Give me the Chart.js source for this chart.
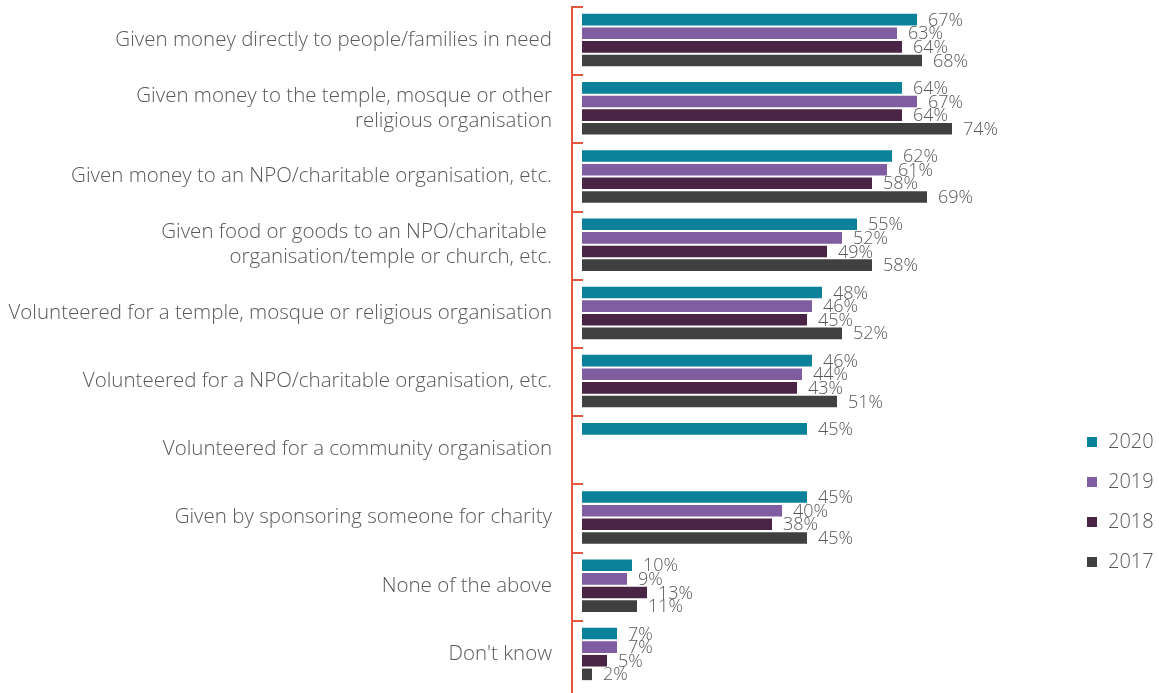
<!DOCTYPE html>
<html>
<head>
<meta charset="utf-8">
<title>Charitable giving</title>
<script src="https://cdn.jsdelivr.net/npm/chart.js@4.4.1/dist/chart.umd.min.js"></script>
<style>
  html, body { margin: 0; padding: 0; background: #fff; }
  #wrap { width: 1159px; height: 693px; position: relative; }
</style>
</head>
<body>
<div id="wrap"><canvas id="chart"></canvas></div>
<script>
// survey answers, one row per kind of giving
const categories = [
  'Given money directly to people/families in need',
  ['Given money to the temple, mosque or other', 'religious organisation'],
  'Given money to an NPO/charitable organisation, etc.',
  ['Given food or goods to an NPO/charitable ', 'organisation/temple or church, etc.'],
  'Volunteered for a temple, mosque or religious organisation',
  'Volunteered for a NPO/charitable organisation, etc.',
  'Volunteered for a community organisation',
  'Given by sponsoring someone for charity',
  'None of the above',
  "Don't know"
];

const years = ['2020', '2019', '2018', '2017'];
const yearColors = ['#0B8299', '#805CA1', '#4A2445', '#404040'];

const values2020 = [67, 64, 62, 55, 48, 46, 45, 45, 10, 7];
const values2019 = [63, 67, 61, 52, 46, 44, null, 40, 9, 7];
const values2018 = [64, 64, 58, 49, 45, 43, null, 38, 13, 5];
const values2017 = [68, 74, 69, 58, 52, 51, null, 45, 11, 2];

const seriesValues = [values2020, values2019, values2018, values2017];

const TEXT_COLOR = '#595959';
const AXIS_COLOR = '#E2583E';
const FONT = "'Open Sans', sans-serif";

// orange axis line with short ticks pointing into the plot
const axisBracket = {
  id: 'axisBracket',
  afterDraw(chart) {
    const { ctx, chartArea } = chart;
    const yScale = chart.scales.y;
    const n = yScale.ticks.length;
    const band = (yScale.bottom - yScale.top) / n;
    const x = chartArea.left;
    ctx.save();
    ctx.strokeStyle = AXIS_COLOR;
    ctx.lineWidth = 2;
    ctx.beginPath();
    ctx.moveTo(x, yScale.top);
    ctx.lineTo(x, chart.height);
    for (let i = 0; i < n; i++) {
      const y = Math.round(yScale.top + band * i) + 1;
      ctx.moveTo(x - 1, y);
      ctx.lineTo(x + 11, y);
    }
    ctx.stroke();
    ctx.restore();
  }
};

// percentage next to the end of each bar
const barValues = {
  id: 'barValues',
  afterDatasetsDraw(chart) {
    const { ctx } = chart;
    ctx.save();
    ctx.font = '300 18px ' + FONT;
    ctx.fillStyle = TEXT_COLOR;
    ctx.textAlign = 'left';
    ctx.textBaseline = 'middle';
    chart.data.datasets.forEach((ds, i) => {
      const meta = chart.getDatasetMeta(i);
      meta.data.forEach((bar, j) => {
        const v = ds.data[j];
        if (v === null || v === undefined) return;
        ctx.fillText(v + '%', bar.x + 11, bar.y + 1);
      });
    });
    ctx.restore();
  }
};

// legend stacked on the right, below the middle
const sideLegend = {
  id: 'sideLegend',
  afterDraw(chart) {
    const { ctx } = chart;
    const x = 1087;
    let y = 442;
    ctx.save();
    ctx.font = '300 20px ' + FONT;
    ctx.textBaseline = 'middle';
    chart.data.datasets.forEach(ds => {
      ctx.fillStyle = ds.backgroundColor;
      ctx.fillRect(x, y - 5, 10, 10);
      ctx.fillStyle = TEXT_COLOR;
      ctx.fillText(ds.label, x + 21, y);
      y += 40;
    });
    ctx.restore();
  }
};

const datasets = years.map((year, i) => ({
  label: year,
  data: seriesValues[i],
  backgroundColor: yearColors[i],
  borderWidth: 0,
  categoryPercentage: 0.8,
  barPercentage: 0.85
}));

new Chart(document.getElementById('chart'), {
  type: 'bar',
  data: {
    labels: categories,
    datasets: datasets
  },
  options: {
    indexAxis: 'y',
    responsive: true,
    maintainAspectRatio: false,
    animation: false,
    layout: {
      padding: { left: 0, right: 97, top: 6, bottom: 5 }
    },
    scales: {
      x: {
        display: false,
        min: -2,
        max: 96
      },
      y: {
        grid: { display: false, drawTicks: false },
        border: { display: false },
        ticks: {
          color: TEXT_COLOR,
          padding: 20,
          font: { family: FONT, size: 20.5, weight: 300, lineHeight: 1.22 }
        },
        afterFit(scale) {
          scale.width = 572;
          // labels sit inside their bands, no extra room needed above/below
          scale.paddingTop = 0;
          scale.paddingBottom = 0;
        }
      }
    },
    plugins: {
      legend: { display: false },
      tooltip: { enabled: false }
    }
  },
  plugins: [axisBracket, barValues, sideLegend]
});
</script>
</body>
</html>
